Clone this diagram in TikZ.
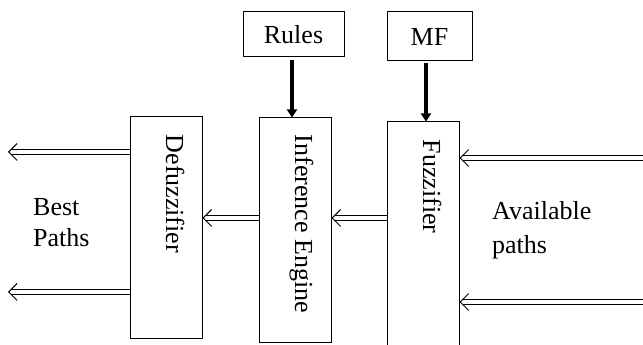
\documentclass[tikz,border=0pt]{standalone}
\usepackage{fontspec}
\setmainfont{Liberation Serif}
\usetikzlibrary{calc,arrows.meta,positioning}
\tikzset{block/.style={draw, line width=1pt, rectangle, inner sep=0pt, minimum width=72pt},
    vtext/.style={rotate=-90, anchor=base west, inner sep=0pt},
    hollow/.style={double, double distance=4.5pt, line width=0.9pt, shorten >=2.6pt},
    barb/.style={line width=0.9pt, -{Straight Barb[length=8.5pt, width=17pt]}},
    feed/.style={line width=3.4pt, -{Triangle[length=8pt,width=10pt]}},
    every node/.style={font=\fontsize{26}{31}\selectfont}}
\newcommand{\hollowarrow}[2]{%
    \draw[hollow] (#1) -- (#2);
    \draw[barb] ($(#2)!0.5pt!(#1)$) -- (#2);}

\begin{document}
\begin{tikzpicture}[x=1pt, y=1pt]
    \useasboundingbox (0,0) rectangle (643,345);
    % main blocks
    \node[block, minimum height=222pt] (Defuzz) at (166,117) {};
    \node[block, minimum height=225pt] (Infer) at (295,114.5) {};
    \node[block, minimum height=240pt] (Fuzz) at (423,103) {};
    \node[block, minimum width=101pt, minimum height=45pt] (Rules) at (293.5,310.5) {Rules};
    \node[block, minimum width=85pt, minimum height=49pt] (MF) at (429.5,308.5) {MF};
    \node[vtext] (DefuzzText) at ($(Defuzz.north)+(0,-18)$) {Defuzzifier};
    \node[vtext] (InferText) at ($(Infer.north)+(0,-17)$) {Inference Engine};
    \node[vtext] (FuzzText) at ($(Fuzz.north)+(0,-18)$) {Fuzzifier};
    \node[align=left, anchor=west, inner sep=0pt] (Best) at (33,122.5) {Best\\Paths};
    \node[align=left, anchor=west, inner sep=0pt] (Avail) at (492,115) {Available\\[3pt]paths};
    % free ends
    \coordinate (best1) at (8,193);
    \coordinate (best2) at (8,53);
    \coordinate (avail1) at (646,187);
    \coordinate (avail2) at (646,43);
    \coordinate (mid) at (0,127);
    \coordinate (f1) at (Fuzz.west |- mid);
    \coordinate (i1) at (Infer.east |- mid);
    \coordinate (i2) at (Infer.west |- mid);
    \coordinate (d1) at (Defuzz.east |- mid);
    \coordinate (d2) at (Defuzz.west |- best1);
    \coordinate (d3) at (Defuzz.west |- best2);
    \coordinate (f2) at (Fuzz.east |- avail1);
    \coordinate (f3) at (Fuzz.east |- avail2);
    % arrows
    \draw[feed] ($(Rules.south)+(-1.5,-3)$) -- ($(Rules.south |- Infer.north)+(-1.5,0)$);
    \draw[feed] ($(MF.south)+(-3.5,-2)$) -- ($(MF.south |- Fuzz.north)+(-3.5,0)$);
    \hollowarrow{f1}{i1}
    \hollowarrow{i2}{d1}
    \hollowarrow{d2}{best1}
    \hollowarrow{d3}{best2}
    \hollowarrow{avail1}{f2}
    \hollowarrow{avail2}{f3}
\end{tikzpicture}
\end{document}
